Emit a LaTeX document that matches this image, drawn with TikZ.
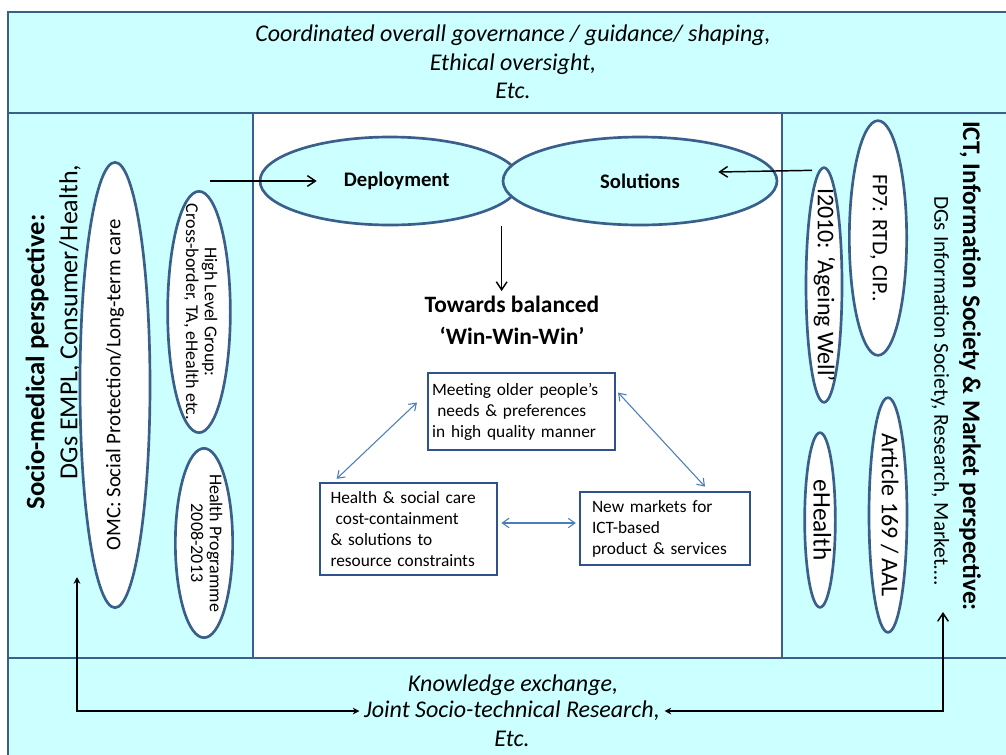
\documentclass[tikz,border=0pt]{standalone}
\usepackage{fontspec}
\setmainfont{Carlito}
\usepackage{tikz}
\usetikzlibrary{arrows.meta, positioning, shapes, calc}
\usetikzlibrary{shapes.geometric}
\usepackage{xcolor}
\definecolor{panelfill}{HTML}{CCFFFF}
\definecolor{panelline}{HTML}{3A5F8B}
\definecolor{boxline}{HTML}{2F528F}
\definecolor{linkblue}{HTML}{4A7EBB}
% 椭圆里的文字不撑大椭圆
\newcommand{\inoval}[1]{\makebox[0pt]{\raisebox{-.25em}[0pt][0pt]{\begin{tabular}{@{}c@{}}#1\end{tabular}}}}

\begin{document}
\begin{tikzpicture}[x=0.75pt, y=-0.75pt, >={Straight Barb[length=6pt, width=8pt]},
	panel/.style={draw=panelline, line width=2.2pt, fill=panelfill},
	oval/.style={draw=panelline, line width=2pt, fill=white, ellipse, inner sep=0pt},
	goal/.style={draw=boxline, line width=1.8pt, fill=white, align=left, inner ysep=0pt, font=\fontsize{13}{15.75}\selectfont},
	link/.style={>={Straight Barb[length=5pt, width=7pt]}, <->, draw=linkblue, line width=0.8pt},
	flow/.style={line width=1.1pt}]
	\useasboundingbox (0,0) rectangle (1006,754);
	
	% 背景分区
	\draw[panel] (8,12) rectangle (1012,113);
	\draw[panel] (8,113) rectangle (253,658);
	\draw[panel, fill=white] (253,113) rectangle (782,658);
	\draw[panel] (782,113) rectangle (1012,658);
	\draw[panel] (8,658) rectangle (1012,760);
	
	% 顶部和底部文字
	\node[font=\fontsize{18}{21.4}\selectfont\itshape, align=center] (gov) at (513,62) {Coordinated overall governance / guidance/ shaping,\\ Ethical oversight,\\ Etc.};
	\node[font=\fontsize{18}{20}\selectfont\itshape] (know) at (513,685) {Knowledge exchange,};
	\node[font=\fontsize{18}{20}\selectfont\itshape] (joint) at (512,711) {Joint Socio-technical Research,};
	\node[font=\fontsize{18}{20}\selectfont\itshape] (etcb) at (512,739) {Etc.};
	
	% 左侧: 社会医疗
	\node[rotate=90, font=\fontsize{20}{24}\selectfont\bfseries] (smtitle) at (37,362) {Socio-medical perspective:};
	\node[rotate=90, font=\fontsize{19.5}{24}\selectfont] (smdgs) at (70,322) {DGs EMPL, Consumer/Health,};
	\node[oval, rotate=90, minimum width=334pt, minimum height=52.5pt, font=\fontsize{15.6}{19}\selectfont] (omc) at (115,385) {\inoval{OMC: Social Protection/Long-term care}};
	\node[oval, rotate=-90, minimum width=181pt, minimum height=47pt, font=\fontsize{13.5}{14}\selectfont] (hlg) at (199,312) {\inoval{High Level Group:\\Cross-border, TA, eHealth etc.}};
	\node[oval, rotate=-90, minimum width=142pt, minimum height=43pt, font=\fontsize{13.5}{14}\selectfont] (hprog) at (204,543) {\inoval{Health Programme\\2008-2013}};
	
	% 右侧: ICT 与市场
	\node[rotate=-90, font=\fontsize{19}{24}\selectfont\bfseries] (icttitle) at (970,366) {ICT, Information Society \& Market perspective:};
	\node[rotate=-90, font=\fontsize{16}{20}\selectfont] (ictdgs) at (940,391) {DGs Information Society, Research, Market….};
	\node[oval, rotate=-90, minimum width=176pt, minimum height=43pt, font=\fontsize{16.5}{20}\selectfont] (fp7) at (878,238) {\inoval{FP7: RTD, CIP..}};
	\node[oval, rotate=-90, minimum width=176pt, minimum height=27pt, font=\fontsize{18}{22}\selectfont] (i2010) at (824,285) {\inoval{I2010: ‘Ageing Well’}};
	\node[oval, rotate=-90, minimum width=176pt, minimum height=28.5pt, font=\fontsize{18}{22}\selectfont] (aal) at (888,515) {\inoval{Article 169 / AAL}};
	\node[oval, rotate=-90, minimum width=131pt, minimum height=23pt, font=\fontsize{19}{22}\selectfont] (ehealth) at (820,520) {\inoval{eHealth}};
	
	% 中间: 部署与解决方案
	\node[ellipse, draw=panelline, line width=2pt, fill=panelfill, inner sep=0pt, minimum width=195pt, minimum height=66pt, font=\fontsize{15.5}{18}\selectfont\bfseries] (dep) at (390,181) {\hspace*{10pt}Deployment};
	\node[ellipse, draw=panelline, line width=2pt, fill=panelfill, inner sep=0pt, minimum width=205.5pt, minimum height=66pt, font=\fontsize{15.5}{18}\selectfont\bfseries] (sol) at (640,181) {Solutions};
	\node[font=\fontsize{17.6}{24}\selectfont\bfseries, align=center] (win) at (512,320) {Towards balanced\\‘Win-Win-Win’};
	
	% 三个目标
	\node[goal, inner xsep=3pt, text width=134pt, minimum height=58pt] (meet) at (521.5,411.5) {Meeting older people’s\\\hspace*{.3em}needs \& preferences\\in high quality manner};
	\node[goal, inner xsep=8pt, text width=117pt, minimum height=69pt] (hcare) at (408.5,529) {Health \& social care\\\hspace*{.3em}cost-containment\\\& solutions to\\resource constraints};
	\node[goal, inner xsep=9pt, text width=109.5pt, minimum height=55pt] (mkt) at (665,528.5) {New markets for\\ICT-based\\product \& services};
	
	% 箭头
	\coordinate (hlgout) at (210,181);
	\draw[->, flow] (hlgout) -- ($(dep.west)+(58,0)$);
	\draw[->, flow] ($(i2010.west)+(-12,4)$) -- ($(sol.east)+(-60,-9)$);
	\draw[->, flow] (sol.west |- dep.south) -- (sol.west |- win.north);
	
	\draw[link] ($(meet.west)+(-10,-9)$) -- ($(hcare.north west)+(18,-3)$);
	\draw[link] ($(meet.east)+(2,-19)$) -- ($(mkt.north)+(40,-4)$);
	\draw[link] ($(hcare.east)+(3,-6)$) -- ($(mkt.west)+(-3,-5.5)$);
	
	% 知识交流
	\coordinate (lfree) at (77,577);
	\coordinate (rfree) at (943,612);
	\draw[flow, {Stealth[length=5pt, width=5pt]}-{Stealth[length=5pt, width=5pt]}] (lfree) |- (joint.west);
	\draw[flow, {Straight Barb[length=6pt, width=8pt]}-{Stealth[length=5pt, width=5pt]}] (rfree) |- (joint.east);
	
\end{tikzpicture}
\end{document}
